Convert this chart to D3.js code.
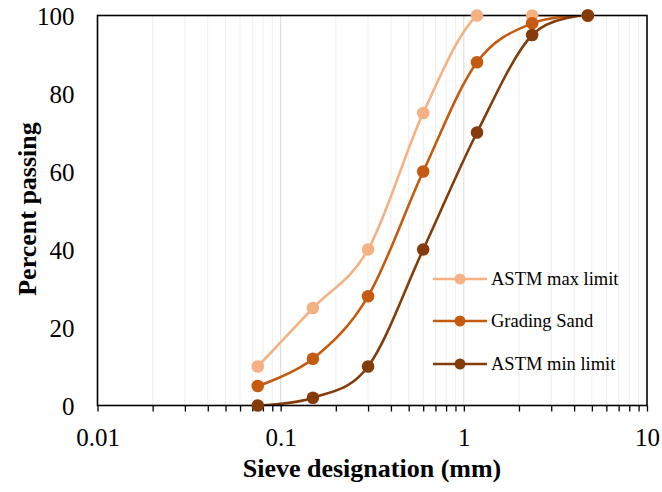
<!DOCTYPE html>
<html><head><meta charset="utf-8">
<script src="https://cdn.jsdelivr.net/npm/d3@7"></script>
<style>body{margin:0;background:#fff}svg{display:block}text{font-family:"Liberation Serif","Times New Roman",serif}</style>
</head><body><svg id="c" width="662" height="492"></svg>
<script>
const sieves = [0.075, 0.15, 0.3, 0.6, 1.18, 2.36, 4.75];
const seriesNames = ["ASTM max limit", "Grading Sand", "ASTM min limit"];
const maxLimit = [10, 25, 40, 75, 100, 100, 100];
const gradingSand = [5, 12, 28, 60, 88, 98, 100];
const minLimit = [0, 2, 10, 40, 70, 95, 100];
const colors = ["#F4B183", "#C55A11", "#843C0C"];
const xTickValues = [0.01, 0.1, 1, 10];
const yTickValues = [0, 20, 40, 60, 80, 100];

const svg = d3.select("#c");
const L = 97.5, R = 647, T = 15.5, B = 405.5;
const x = d3.scaleLog().domain([0.01, 10]).range([L, R]);
const y = d3.scaleLinear().domain([0, 100]).range([B, T]);

svg.append("defs").append("clipPath").attr("id", "clip")
  .append("rect").attr("x", L).attr("y", T).attr("width", R - L).attr("height", B - T);

const minor = [];
[0.01, 0.1, 1].forEach(d => { for (let k = 2; k <= 9; k++) minor.push(d * k); });

svg.append("g").selectAll("line").data(minor).join("line")
  .attr("x1", d => x(d)).attr("x2", d => x(d)).attr("y1", T).attr("y2", B)
  .attr("stroke", "#EEEEEE").attr("stroke-width", 1);
svg.append("g").selectAll("line").data([0.1, 1]).join("line")
  .attr("x1", d => x(d)).attr("x2", d => x(d)).attr("y1", T).attr("y2", B)
  .attr("stroke", "#D9D9D9").attr("stroke-width", 1);

// x axis
const xAxis = svg.append("g").attr("transform", `translate(0,${B})`)
  .call(d3.axisBottom(x).tickValues(xTickValues.concat(minor)).tickSize(6)
    .tickFormat(d => xTickValues.includes(d) ? String(d) : ""));
xAxis.select(".domain").remove();
xAxis.selectAll(".tick line").attr("stroke", "#000").attr("stroke-width", 1.3);
xAxis.selectAll(".tick text").attr("font-size", 25).attr("fill", "#000").attr("dy", 0).attr("y", 40)
  .style("font-family", '"Liberation Serif",serif');

// y axis
const yAxis = svg.append("g").attr("transform", `translate(${L},0)`)
  .call(d3.axisLeft(y).tickValues(yTickValues).tickSize(0).tickPadding(23));
yAxis.select(".domain").remove();
yAxis.selectAll(".tick text").attr("font-size", 25).attr("fill", "#000").attr("dy", "0.35em")
  .style("font-family", '"Liberation Serif",serif');

// titles
svg.append("text").attr("x", 372).attr("y", 477).attr("text-anchor", "middle")
  .attr("font-size", 26).attr("font-weight", "bold").text("Sieve designation (mm)");
svg.append("text").attr("transform", "translate(36,209) rotate(-90)").attr("text-anchor", "middle")
  .attr("font-size", 26).attr("font-weight", "bold").text("Percent passing");

// series
const all = [maxLimit, gradingSand, minLimit];
const line = d3.line().x(d => x(d[0])).y(d => y(d[1])).curve(d3.curveCardinal.tension(0));
all.forEach((vals, i) => {
  const pts = sieves.map((s, j) => [s, vals[j]]);
  svg.append("path").datum(pts).attr("d", line).attr("fill", "none")
    .attr("clip-path", "url(#clip)")
    .attr("stroke", colors[i]).attr("stroke-width", 2.6);
});

// frame
svg.append("rect").attr("x", L).attr("y", T).attr("width", R - L).attr("height", B - T)
  .attr("fill", "none").attr("stroke", "#000").attr("stroke-width", 1.6);

all.forEach((vals, i) => {
  const pts = sieves.map((s, j) => [s, vals[j]]);
  svg.append("g").selectAll("circle").data(pts).join("circle")
    .attr("cx", d => x(d[0])).attr("cy", d => y(d[1])).attr("r", 6.3).attr("fill", colors[i]);
});

// legend
const legY = [279, 321, 364];
seriesNames.forEach((n, i) => {
  const g = svg.append("g");
  g.append("line").attr("x1", 433).attr("x2", 487).attr("y1", legY[i]).attr("y2", legY[i])
    .attr("stroke", colors[i]).attr("stroke-width", 2.6);
  g.append("circle").attr("cx", 460).attr("cy", legY[i]).attr("r", 5.5).attr("fill", colors[i]);
  g.append("text").attr("x", 491).attr("y", legY[i]).attr("dy", "0.35em")
    .attr("font-size", 18.5).attr("fill", "#000").text(n);
});
</script></body></html>
